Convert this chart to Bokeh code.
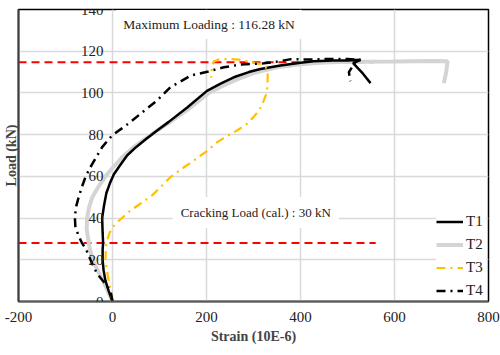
from bokeh.plotting import figure
from bokeh.models import ColumnDataSource, LabelSet, Label, FixedTicker, Range1d, Legend, LegendItem
from bokeh.core.properties import value
from bokeh.embed import file_html
from bokeh.resources import INLINE

# ---- data (strain in 10E-6, load in kN) ----
t1_strain = [0, -8, -15, -19, -21, -21, -20, -21, -22, -18, -13, -5, 3, 15, 31, 50, 72, 95, 119, 159, 201, 230, 258, 290, 315, 357, 400, 428, 470, 500, 528, 512, 530, 549]
t1_load = [0, 5, 10, 15, 20, 25, 28, 33, 40, 46, 52, 57, 61, 65, 70, 74, 78, 82, 86, 93, 101, 104.5, 107.5, 110, 111.5, 113.1, 114.5, 115.2, 115.5, 115.6, 115.9, 114.3, 110, 104.7]

t2_strain = [0, -10, -20, -32, -42, -48, -52, -55, -54, -50, -43, -30, -15, 0, 20, 45, 70, 95, 119, 160, 205, 235, 265, 300, 350, 400, 450, 500, 600, 680, 713, 710, 705]
t2_load = [0, 5, 10, 15, 20, 25, 30, 35, 40, 45, 50, 55, 60, 64, 69, 74, 78, 82, 85.5, 92, 100, 103.5, 106.5, 109.5, 112.3, 113.8, 114.6, 114.9, 115.1, 115.3, 115.2, 110, 104.7]

t3_strain = [0, -4, -8, -12, -15, -14, -13, -9, -6, 2, 10, 38, 60, 85, 105, 123, 150, 173, 200, 223, 245, 265, 285, 300, 313, 322, 328, 330, 330, 326, 315, 300, 268, 245, 226, 215, 211, 210]
t3_load = [0, 5, 10, 15, 20, 25, 28, 31, 33, 36, 38, 43.6, 47, 51, 55.5, 59.6, 64, 67.6, 72, 76.4, 79.5, 82, 85, 88.4, 92, 96.4, 100, 104.4, 109, 112.3, 113.8, 114.5, 116, 116.3, 116, 115, 111, 107.4]

t4_strain = [0, -4, -17, -33, -45, -57, -65, -73, -79, -80, -78, -72, -65, -57, -47, -35, -22, -1, 20, 38, 65, 95, 123, 145, 166, 204, 237, 272, 322, 350, 380, 420, 460, 500, 520, 503, 506]
t4_load = [0, 5, 9, 13.4, 19, 25.4, 28, 32, 36, 40, 45, 50, 55, 60, 64.4, 69, 74, 79.6, 83, 86, 91, 96.4, 102.7, 105.5, 108.3, 110.3, 112.3, 113.6, 114.2, 115, 116.2, 116, 116.3, 116.3, 116, 110, 105.6]

max_line_strain = [-200, 555]
max_line_load = [114.7, 114.7]
crack_line_strain = [-200, 560]
crack_line_load = [28, 28]

x_ticks = [-200, 0, 200, 400, 600, 800]
x_tick_labels = ["-200", "0", "200", "400", "600", "800"]
y_ticks = [0, 20, 40, 60, 80, 100, 120, 140]
y_tick_labels = ["0", "20", "40", "60", "80", "100", "120", "140"]

series_names = ["T1", "T2", "T3", "T4"]
max_text = "Maximum Loading : 116.28 kN"
crack_text = "Cracking Load (cal.) : 30 kN"
max_text_pos = (8, 132.8)
crack_text_pos = (128, 42.7)

FONT = "Liberation Serif"

p = figure(width=500, height=355, output_backend="svg", toolbar_location=None,
           x_range=Range1d(-200, 800), y_range=Range1d(0, 140),
           min_border_left=18, min_border_right=12, min_border_top=9, min_border_bottom=54)
p.background_fill_color = "white"
p.border_fill_color = "white"
p.outline_line_color = "black"
p.outline_line_width = 1.5

# grid
p.xgrid.ticker = FixedTicker(ticks=x_ticks)
p.ygrid.ticker = FixedTicker(ticks=y_ticks)
p.grid.grid_line_color = "#d9d9d9"
p.grid.grid_line_width = 1.5

# x axis
p.xaxis.ticker = FixedTicker(ticks=x_ticks)
p.xaxis.major_label_overrides = {t: s for t, s in zip(x_ticks, x_tick_labels)}
p.xaxis.axis_label = "Strain (10E-6)"
p.xaxis.axis_label_text_font = FONT
p.xaxis.axis_label_text_font_style = "bold"
p.xaxis.axis_label_text_font_size = "14px"
p.xaxis.axis_label_standoff = 4
p.xaxis.major_label_text_font = FONT
p.xaxis.major_label_text_font_size = "15px"
p.xaxis.major_label_text_color = "#222222"
p.xaxis.major_label_standoff = 10
p.xaxis.major_tick_out = 0
p.xaxis.major_tick_in = 0
p.xaxis.minor_tick_out = 0
p.xaxis.minor_tick_in = 0
p.xaxis.axis_line_color = "#595959"
p.xaxis.axis_line_width = 2

# y axis (tick labels drawn at x = 0 separately)
p.yaxis.ticker = FixedTicker(ticks=[])
p.yaxis.axis_label = "Load (kN)"
p.yaxis.axis_label_text_font = FONT
p.yaxis.axis_label_text_font_style = "bold"
p.yaxis.axis_label_text_font_size = "14px"
p.yaxis.axis_label_standoff = 0
p.yaxis.major_label_standoff = 0
p.yaxis.major_tick_out = 0
p.yaxis.major_tick_in = 0
p.yaxis.minor_tick_out = 0
p.yaxis.minor_tick_in = 0
p.yaxis.axis_line_color = "#404040"
p.yaxis.axis_line_width = 2

# reference lines
p.line(max_line_strain, max_line_load, line_color="#ff0000", line_width=2, line_dash="8 5")
p.line(crack_line_strain, crack_line_load, line_color="#ff0000", line_width=2, line_dash="8 5")

# series
r2 = p.line(t2_strain, t2_load, line_color="#d4d4d4", line_width=4)
r1 = p.line(t1_strain, t1_load, line_color="black", line_width=2.5)
r3 = p.line(t3_strain, t3_load, line_color="#ffc000", line_width=2.2, line_dash="9 5 2 5")
r4 = p.line(t4_strain, t4_load, line_color="black", line_width=2.5, line_dash="9 5 2 5")

# y tick labels at x = 0
ysrc = ColumnDataSource(dict(y=y_ticks, text=y_tick_labels))
p.add_layout(LabelSet(x=0, y="y", text="text", source=ysrc, x_offset=-9,
                      text_align="right", text_baseline="middle",
                      text_font=value(FONT), text_font_size="15px", text_color="#222222"))

# annotations
p.add_layout(Label(x=max_text_pos[0], y=max_text_pos[1], text=max_text, text_font=FONT,
                   text_font_size="13.5px", text_baseline="middle", text_color="#222222",
                   background_fill_color="white", padding=7))
p.add_layout(Label(x=crack_text_pos[0], y=crack_text_pos[1], text=crack_text, text_font=FONT,
                   text_font_size="13px", text_baseline="middle", text_color="#222222",
                   background_fill_color="white", padding=8))

legend = Legend(items=[LegendItem(label=n, renderers=[r]) for n, r in zip(series_names, [r1, r2, r3, r4])],
                location="bottom_right")
legend.label_text_font = FONT
legend.label_text_font_size = "15px"
legend.label_text_color = "#222222"
legend.glyph_width = 27
legend.glyph_height = 15
legend.label_height = 15
legend.label_standoff = 3
legend.spacing = 6
legend.padding = 8
legend.margin = 2
legend.border_line_color = None
legend.background_fill_color = "white"
legend.background_fill_alpha = 1
p.add_layout(legend)

open("out.html", "w").write(file_html(p, INLINE))
